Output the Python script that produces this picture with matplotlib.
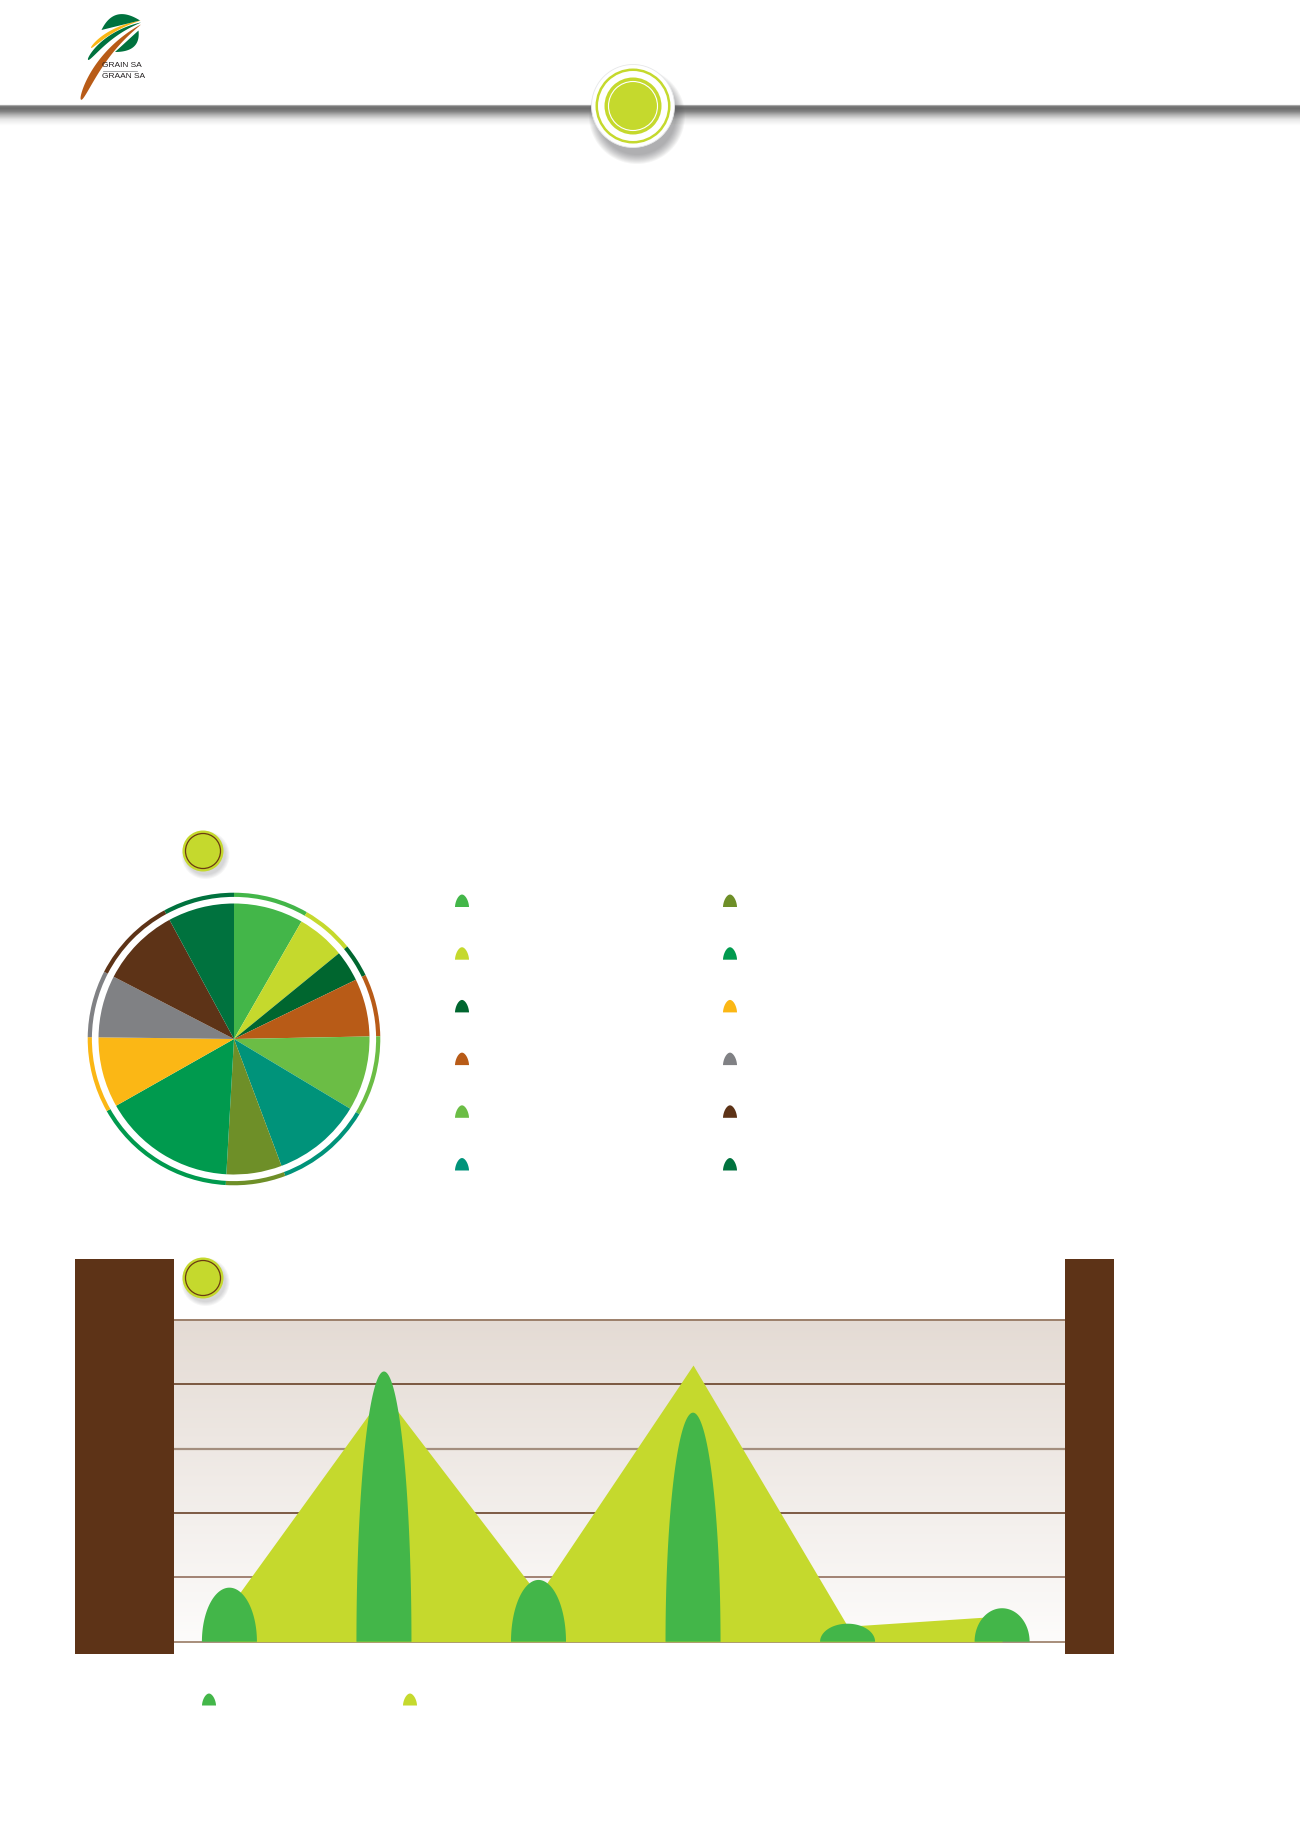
import numpy as np
import matplotlib
matplotlib.use("Agg")
import matplotlib.pyplot as plt
from matplotlib.patches import Circle, Rectangle, Polygon
from matplotlib.colors import to_rgb

W, H = 1300, 1839

# pie chart: shares in percent, clockwise from 12 o'clock
pie_shares = [8.3, 5.8, 3.7, 6.9, 8.9, 10.7, 6.6, 15.9, 8.4, 7.4, 9.5, 7.9]
pie_colors = ['#43B649', '#C5D92D', '#00662F', '#B85B17', '#6BBD45', '#00937A',
              '#6E8F28', '#009A4E', '#FBB715', '#808184', '#5D3317', '#00723E']

# bottom chart
categories = ['1', '2', '3', '4', '5', '6']
green_vals = [42, 210, 48, 178, 14, 26]     # bullet columns
lime_vals = [27, 193, 36, 215, 12, 20]      # area behind
green_col = '#43B649'
lime_col = '#C5D92D'
brown = '#5D3317'

fig = plt.figure(figsize=(W / 100, H / 100), dpi=100)


def pix_axes(z):
    a = fig.add_axes([0, 0, 1, 1], zorder=z)
    a.set_xlim(0, W)
    a.set_ylim(H, 0)
    a.axis('off')
    a.patch.set_alpha(0)
    return a


bg = pix_axes(0)
top = pix_axes(20)


def bez(p0, p1, p2, n=60):
    t = np.linspace(0, 1, n)[:, None]
    p0, p1, p2 = map(np.array, (p0, p1, p2))
    return (1 - t) ** 2 * p0 + 2 * (1 - t) * t * p1 + t ** 2 * p2


def sliver(a, p0, p1, p2, wmax, color, skew=0.8):
    t = np.linspace(0, 1, 80)[:, None]
    p0, p1, p2 = map(np.array, (p0, p1, p2))
    c = bez(p0, p1, p2, 80)
    d = 2 * (1 - t) * (p1 - p0) + 2 * t * (p2 - p1)
    n = np.column_stack([-d[:, 1], d[:, 0]])
    n = n / np.linalg.norm(n, axis=1)[:, None]
    w = wmax / 2 * np.sin(np.pi * t ** skew) ** 0.8
    pts = np.vstack([c + n * w, (c - n * w)[::-1]])
    a.add_patch(Polygon(pts, closed=True, fc=color, ec='none'))


def leaf(a, A, B, C, color):
    # straight edge A->B, curved edge back from B to A via control C
    pts = np.vstack([np.array([A, B]), bez(B, C, A)])
    a.add_patch(Polygon(pts, closed=True, fc=color, ec='none'))


def bullet_pix(a, cx, by, w, h, color, z=5):
    yy = np.linspace(0, 1, 60)
    xx = (w / 2) * (1 - yy ** 1.7) ** 0.55
    pts = np.vstack([np.column_stack([cx - xx, by - yy * h]),
                     np.column_stack([cx + xx[::-1], by - yy[::-1] * h])])
    a.add_patch(Polygon(pts, closed=True, fc=color, ec='none', zorder=z))


def shadow(a, cx, cy, r, dx, dy, n=8, alpha=0.05):
    for i in range(n):
        a.add_patch(Circle((cx + dx, cy + dy), r + n - i, fc='#58595B',
                           ec='none', alpha=alpha))


# ---- header: logo, grey band, badge
sliver(bg, (81, 100), (100, 52), (141, 24.5), 7, '#B85B17', skew=0.6)
sliver(bg, (88, 60), (108, 33), (141, 22.5), 5, '#00723E', skew=0.6)
sliver(bg, (91, 48), (110, 28), (141, 20.5), 3.5, '#FBB715', skew=0.6)
leaf(bg, (101.5, 30), (140, 20.5), (114, 4), '#00723E')
leaf(bg, (115, 52), (138.5, 30.5), (141, 52), '#00723E')
bg.text(102.5, 65.3, 'GRAIN SA', fontsize=6, family='Liberation Sans',
        color='#231F20', va='center', ha='left')
bg.plot([103, 137], [70.8, 70.8], color='#808184', lw=0.5)
bg.text(102.5, 76.2, 'GRAAN SA', fontsize=6, family='Liberation Sans',
        color='#231F20', va='center', ha='left')

ys = np.arange(100, 126, 0.5)
lev = np.interp(ys, [100, 104.5, 105.5, 108, 111, 115, 119, 125],
                [1.0, 1.0, 0.5, 0.43, 0.5, 0.72, 0.9, 1.0])
band = np.repeat(lev[:, None, None] * np.ones((1, 1, 3)), 2, axis=1)
bg.imshow(band, extent=(0, W, 126, 100), aspect='auto', interpolation='bilinear',
          zorder=1)
bg.set_xlim(0, W)
bg.set_ylim(H, 0)

hx, hy = 633, 106
shadow(top, hx, hy, 38, 4, 10, 10, 0.06)
top.add_patch(Circle((hx, hy), 41.5, fc='white', ec='#E6E7E8', lw=0.6))
top.add_patch(Circle((hx, hy), 37.5, fc=lime_col, ec='none'))
top.add_patch(Circle((hx, hy), 35.0, fc='white', ec='none'))
top.add_patch(Circle((hx, hy), 28.5, fc=lime_col, ec='none'))
top.add_patch(Circle((hx, hy), 24.5, fc='none', ec='white', lw=0.8))


def small_badge(cx, cy):
    shadow(top, cx, cy, 19, 2.5, 4, 5)
    top.add_patch(Circle((cx, cy), 20.5, fc=lime_col, ec='none'))
    top.add_patch(Circle((cx, cy), 17.5, fc='none', ec='#6B3A12', lw=0.9))


small_badge(203, 851)
small_badge(203, 1278)

# ---- pie chart
pc_x, pc_y, r_pix = 234, 1039, 135.5
half = 172
pax = fig.add_axes([(pc_x - half) / W, (H - pc_y - half) / H, 2 * half / W, 2 * half / H],
                   zorder=5)
pax.pie(pie_shares, colors=pie_colors, startangle=90, counterclock=False, radius=1,
        wedgeprops=dict(linewidth=0))
pax.pie(pie_shares, colors=pie_colors, startangle=90, counterclock=False,
        radius=146.3 / r_pix, wedgeprops=dict(width=4.2 / r_pix, linewidth=0))
lim = half / r_pix
pax.set_xlim(-lim, lim)
pax.set_ylim(-lim, lim)
pax.set_aspect('equal')
pax.axis('off')

# legend markers: two columns of six
for i, col in enumerate(pie_colors):
    lx = 462 if i < 6 else 730
    ly = 907 + 52.7 * (i % 6)
    bullet_pix(top, lx, ly, 14, 12.5, col)

# ---- bottom chart
top.add_patch(Rectangle((75, 1259), 99, 395, fc=brown, ec='none'))
top.add_patch(Rectangle((1065, 1259), 49, 395, fc=brown, ec='none'))

x0_pix, x1_pix, yb_pix, yt_pix = 174, 1065, 1641.7, 1320
cax = fig.add_axes([x0_pix / W, (H - yb_pix) / H, (x1_pix - x0_pix) / W,
                    (yb_pix - yt_pix) / H], zorder=4)
xs = np.arange(len(categories))
xmin, xmax = -0.3586, 5.407
ymax = 250

c_top = np.array(to_rgb('#E4DBD4'))
c_bot = np.array(to_rgb('#FDFCFB'))
g = np.linspace(0, 1, 200)[:, None, None]
grad = c_bot * (1 - g) + c_top * g
cax.imshow(grad, extent=(xmin, xmax, 0, ymax), origin='lower', aspect='auto', zorder=0)

grid_cols = ['#A08570', '#8A6450', brown, '#A38E7E', brown, '#9C7F6A']
grid_lw = [1.3, 1.1, 1.1, 1.6, 1.1, 1.4]
for k, yv in enumerate(range(0, ymax + 1, 50)):
    cax.axhline(yv, color=grid_cols[k], lw=grid_lw[k], zorder=1, clip_on=False)

cax.fill_between(xs, lime_vals, 0, color=lime_col, lw=0, zorder=2)

bw = 0.356
for xi, v in zip(xs, green_vals):
    t = np.linspace(0, np.pi, 100)
    px = xi + (bw / 2) * np.cos(t)
    py = v * np.sin(t)
    cax.fill(np.r_[px, px[0]], np.r_[py, py[0]], color=green_col, lw=0, zorder=3)

cax.set_xlim(xmin, xmax)
cax.set_ylim(0, ymax)
cax.axis('off')

# bottom legend
bullet_pix(top, 209, 1705.5, 14, 12, green_col)
bullet_pix(top, 410, 1705.5, 14, 12, lime_col)

fig.savefig('out.png', dpi=100, facecolor='white')
